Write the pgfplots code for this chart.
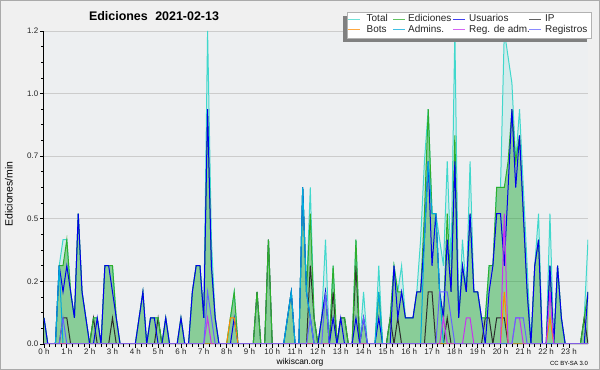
\documentclass[border=0pt]{standalone}
\usepackage{fontspec}
\setmainfont{Liberation Sans}
\usepackage{pgfplots}
\usepackage{pgfplotstable}
\pgfplotsset{compat=1.18}
\definecolor{outerbg}{RGB}{240,240,240}
\definecolor{plotbg}{RGB}{237,239,241}
\definecolor{bordercol}{RGB}{170,170,170}
\definecolor{gridc}{RGB}{204,204,204}
\definecolor{totalc}{RGB}{64,216,204}
\definecolor{edc}{RGB}{45,175,45}
\definecolor{edfill}{RGB}{0,150,0}
\definecolor{usrc}{RGB}{0,0,235}
\definecolor{ipc}{RGB}{45,45,45}
\definecolor{botc}{RGB}{255,140,0}
\definecolor{admc}{RGB}{0,170,220}
\definecolor{rac}{RGB}{200,50,240}
\definecolor{regc}{RGB}{100,100,255}

\pgfplotstableread{
x tot ed usr ip bot adm ra reg
0 .1 .1 .1 0 0 0 0 0
1 0 0 0 0 0 0 0 0
2 0 0 0 0 0 0 0 0
3 0 0 0 0 0 0 0 0
4 .3 .3 .3 0 0 .3 0 0
5 .4 .3 .2 .1 0 0 0 .1
6 .4 .4 .3 .1 0 0 0 0
7 .2 .2 .2 0 0 0 0 0
8 .1 .1 .1 0 0 0 0 0
9 .5 .5 .5 0 0 0 0 0
10 .2 .2 .2 0 0 0 0 0
11 .1 .1 .1 0 0 0 0 0
12 0 0 0 0 0 0 0 0
13 .1 .1 0 .1 0 0 0 0
14 .1 .1 .1 0 0 0 0 0
15 0 0 0 0 0 0 0 0
16 .3 .3 .3 0 0 0 0 0
17 .3 .3 .3 0 0 0 0 0
18 .3 .3 .2 .1 0 0 0 0
19 .1 .1 .1 0 0 0 0 0
20 0 0 0 0 0 0 0 0
21 0 0 0 0 0 0 0 0
22 0 0 0 0 0 0 0 0
23 0 0 0 0 0 0 0 0
24 0 0 0 0 0 0 0 0
25 .1 .1 .1 0 0 0 0 0
26 .2 .2 .2 0 0 0 0 0
27 0 0 0 0 0 0 0 0
28 .1 .1 .1 0 0 0 0 0
29 .1 .1 .1 0 0 0 0 0
30 .1 .1 0 .1 0 0 0 0
31 0 0 0 0 0 0 0 0
32 .1 .1 .1 0 0 0 0 0
33 0 0 0 0 0 0 0 0
34 0 0 0 0 0 0 0 0
35 0 0 0 0 0 0 0 0
36 .1 .1 .1 0 0 0 0 0
37 0 0 0 0 0 0 0 0
38 0 0 0 0 0 0 0 0
39 .2 .2 .2 0 0 0 0 0
40 .3 .3 .3 0 0 0 0 0
41 .3 .3 .3 0 0 0 0 0
42 .1 .1 .1 0 0 0 0 0
43 1.2 .9 .9 0 0 0 .1 .2
44 .4 .3 .3 0 0 0 0 .1
45 .1 .1 .1 0 0 0 0 0
46 0 0 0 0 0 0 0 0
47 0 0 0 0 0 0 0 0
48 0 0 0 0 0 0 0 0
49 .1 .1 0 0 .1 0 0 0
50 .2 .2 .1 0 .1 0 0 0
51 0 0 0 0 0 0 0 0
52 0 0 0 0 0 0 0 0
53 0 0 0 0 0 0 0 0
54 0 0 0 0 0 0 0 0
55 0 0 0 0 0 0 0 0
56 .2 .2 0 .2 0 0 0 0
57 0 0 0 0 0 0 0 0
58 0 0 0 0 0 0 0 0
59 .4 .4 0 .4 0 0 0 0
60 0 0 0 0 0 0 0 0
61 0 0 0 0 0 0 0 0
62 0 0 0 0 0 0 0 0
63 0 0 0 0 0 0 0 0
64 .1 .1 .1 0 0 .1 0 0
65 .2 .2 .2 0 0 .2 0 0
66 0 0 0 0 0 0 0 0
67 0 0 0 0 0 0 0 0
68 .6 .6 .6 0 0 .6 0 0
69 .2 .2 .2 0 0 .2 0 0
70 .6 .5 .1 .3 0 .1 0 .1
71 .1 .1 0 .1 0 0 0 0
72 0 0 0 0 0 0 0 0
73 .1 .1 .1 0 0 0 0 0
74 .4 .2 .2 0 0 0 0 .2
75 0 0 0 0 0 0 0 0
76 .3 .3 .1 .2 0 0 0 0
77 0 0 0 0 0 0 0 0
78 .1 .1 .1 .1 0 0 0 0
79 .1 .1 0 .1 0 0 0 0
80 0 0 0 0 0 0 0 0
81 0 0 0 0 0 0 0 0
82 .4 .4 .1 .3 0 0 0 0
83 0 0 0 0 0 0 0 0
84 .2 .1 .1 0 0 0 0 .1
85 0 0 0 0 0 0 0 0
86 0 0 0 0 0 0 0 0
87 0 0 0 0 0 0 0 0
88 .3 .2 .1 0 0 .2 0 0
89 0 0 0 0 0 0 0 0
90 0 0 0 0 0 0 0 0
91 .1 .1 0 .1 0 0 0 0
92 .3 .3 .3 0 0 0 0 0
93 .2 .2 .1 .1 0 0 0 0
94 .3 .2 .2 0 0 0 0 0
95 .1 .1 .1 0 0 0 0 0
96 .1 .1 .1 0 0 0 0 0
97 .1 .1 .1 0 0 0 0 0
98 .2 .2 .2 0 0 0 0 0
99 .4 .2 .2 0 0 0 0 0
100 .7 .5 .4 0 0 .4 0 0
101 .9 .9 .7 .2 0 .7 0 0
102 .5 .5 .3 .2 0 .5 0 0
103 .5 .5 .5 0 0 .5 0 0
104 .4 .2 .2 0 0 .2 0 .2
105 .3 .1 .1 0 0 0 .1 .2
106 .7 .5 .4 .1 0 0 0 .2
107 .3 .2 .2 0 0 0 0 .1
108 1.2 .8 .7 0 0 0 0 0
109 .1 .1 .1 0 0 0 0 0
110 .4 .3 .3 0 0 0 0 0
111 .2 .2 .2 0 0 0 .1 0
112 .7 .5 .5 0 0 0 .1 0
113 .2 .2 .2 0 0 0 0 0
114 .2 .2 .2 0 0 0 0 0
115 .1 .1 .1 0 0 0 0 0
116 .1 .1 0 .1 0 0 0 0
117 .3 .3 .2 .1 0 0 0 0
118 .3 .3 .3 0 0 0 0 0
119 .6 .6 .5 .1 0 0 0 0
120 .6 .6 .5 .1 0 0 0 0
121 1.2 .6 .3 .1 .2 0 .5 0
122 1.1 .7 .6 0 0 0 0 0
123 1.0 .9 .9 0 0 0 0 0
124 .7 .7 .6 0 0 0 .1 .1
125 .9 .8 .8 0 0 0 .1 .1
126 .6 .5 .5 0 0 0 0 .1
127 .3 .2 .2 0 0 0 0 0
128 0 0 0 0 0 0 0 0
129 .3 .3 .3 0 0 0 0 0
130 .5 .4 .4 0 0 0 0 0
131 0 0 0 0 0 0 0 0
132 0 0 0 0 0 0 0 0
133 .5 .3 .3 0 .1 0 .2 0
134 0 0 0 0 0 0 0 0
135 .3 .3 .3 0 0 0 0 0
136 .1 .1 .1 0 0 0 0 0
137 0 0 0 0 0 0 0 0
138 0 0 0 0 0 0 0 0
139 0 0 0 0 0 0 0 0
140 0 0 0 0 0 0 0 0
141 0 0 0 0 0 0 0 0
142 .1 .1 0 .1 0 0 0 0
143 .4 .2 .2 0 0 0 0 0
}\data

\begin{document}
\begin{tikzpicture}
\useasboundingbox (0,0) rectangle (600bp,370bp);
\fill[outerbg] (0,0) rectangle (600bp,370bp);
\draw[bordercol, line width=1bp] (0.5bp,0.5bp) rectangle (599.5bp,369.5bp);
\begin{axis}[
  at={(44bp,26bp)}, anchor=south west,
  scale only axis, width=544bp, height=313bp,
  xmin=0, xmax=143, ymin=0, ymax=1.2,
  axis x line*=bottom, axis y line*=left,
  axis line style={black, line width=1bp, -},
  axis background/.style={fill=plotbg},
  xtick={0,6,...,138},
  xticklabels={0 h,1 h,2 h,3 h,4 h,5 h,6 h,7 h,8 h,9 h,10 h,11 h,12 h,13 h,14 h,15 h,16 h,17 h,18 h,19 h,20 h,21 h,22 h,23 h},
  minor x tick num=3,
  ytick={0,0.24,0.48,0.72,0.96,1.2},
  yticklabels={0.0,0.2,0.5,0.7,1.0,1.2},
  minor y tick num=3,
  tick align=outside,
  major tick length=4bp, minor tick length=3bp,
  tick style={black, line width=0.8bp},
  ymajorgrids, grid style={gridc, line width=0.9bp},
  tick label style={font=\fontsize{8}{9}\selectfont, text=black!85},
  xticklabel style={inner sep=1bp},
  yticklabel style={inner sep=1.5bp},
]
\addplot[draw=none, fill=totalc, fill opacity=0.15] table[x=x,y=tot]{\data} \closedcycle;
\addplot[draw=none, fill=edfill, fill opacity=0.35] table[x=x,y=ed]{\data} \closedcycle;
\addplot[totalc, line width=1bp] table[x=x,y=tot]{\data};
\addplot[ipc, line width=1bp] table[x=x,y=ip]{\data};
\addplot[edc, line width=1bp] table[x=x,y=ed]{\data};
\addplot[usrc, line width=1bp] table[x=x,y=usr]{\data};
\addplot[admc, line width=1bp] table[x=x,y=adm]{\data};
\addplot[botc, line width=1bp] table[x=x,y=bot]{\data};
\addplot[rac, line width=1bp] table[x=x,y=ra]{\data};
\addplot[regc, line width=1bp] table[x=x,y=reg]{\data};
\end{axis}
% legend
\fill[black!50] (343bp,328bp) rectangle (587bp,354bp);
\filldraw[fill=white, draw=black!30, line width=0.6bp] (347bp,332bp) rectangle (591bp,358bp);
\begin{scope}[line width=0.9bp, opacity=0.75]
\draw[totalc] (348bp,351bp) -- (360bp,351bp);
\draw[edc] (393bp,351bp) -- (405bp,351bp);
\draw[usrc] (453bp,351bp) -- (465bp,351bp);
\draw[ipc] (529bp,351bp) -- (541bp,351bp);
\draw[botc] (348bp,341bp) -- (360bp,341bp);
\draw[admc] (393bp,341bp) -- (405bp,341bp);
\draw[rac] (453bp,341bp) -- (465bp,341bp);
\draw[regc] (529bp,341bp) -- (541bp,341bp);
\end{scope}
\begin{scope}[every node/.style={anchor=base west, inner sep=0pt, font=\fontsize{10}{11}\selectfont, text=black!85}]
\node at (366.5bp,348bp) {Total};
\node at (408bp,348bp) {Ediciones};
\node at (469bp,348bp) {Usuarios};
\node at (545bp,348bp) {IP};
\node at (366.5bp,337.7bp) {Bots};
\node at (408bp,337.7bp) {Admins.};
\node at (469bp,337.7bp) {Reg. de adm.};
\node at (545bp,337.7bp) {Registros};
\end{scope}
\node[font=\bfseries\fontsize{12.5}{14}\selectfont] at (154bp,354bp) {Ediciones\hspace{0.6em}2021-02-13};
\node[font=\fontsize{10.5}{12}\selectfont, rotate=90] at (9bp,176bp) {Ediciones/min};
\node[font=\fontsize{8.5}{10}\selectfont] at (300bp,8bp) {wikiscan.org};
\node[font=\fontsize{6}{7}\selectfont] at (569bp,7bp) {CC BY-SA 3.0};
\end{tikzpicture}
\end{document}
